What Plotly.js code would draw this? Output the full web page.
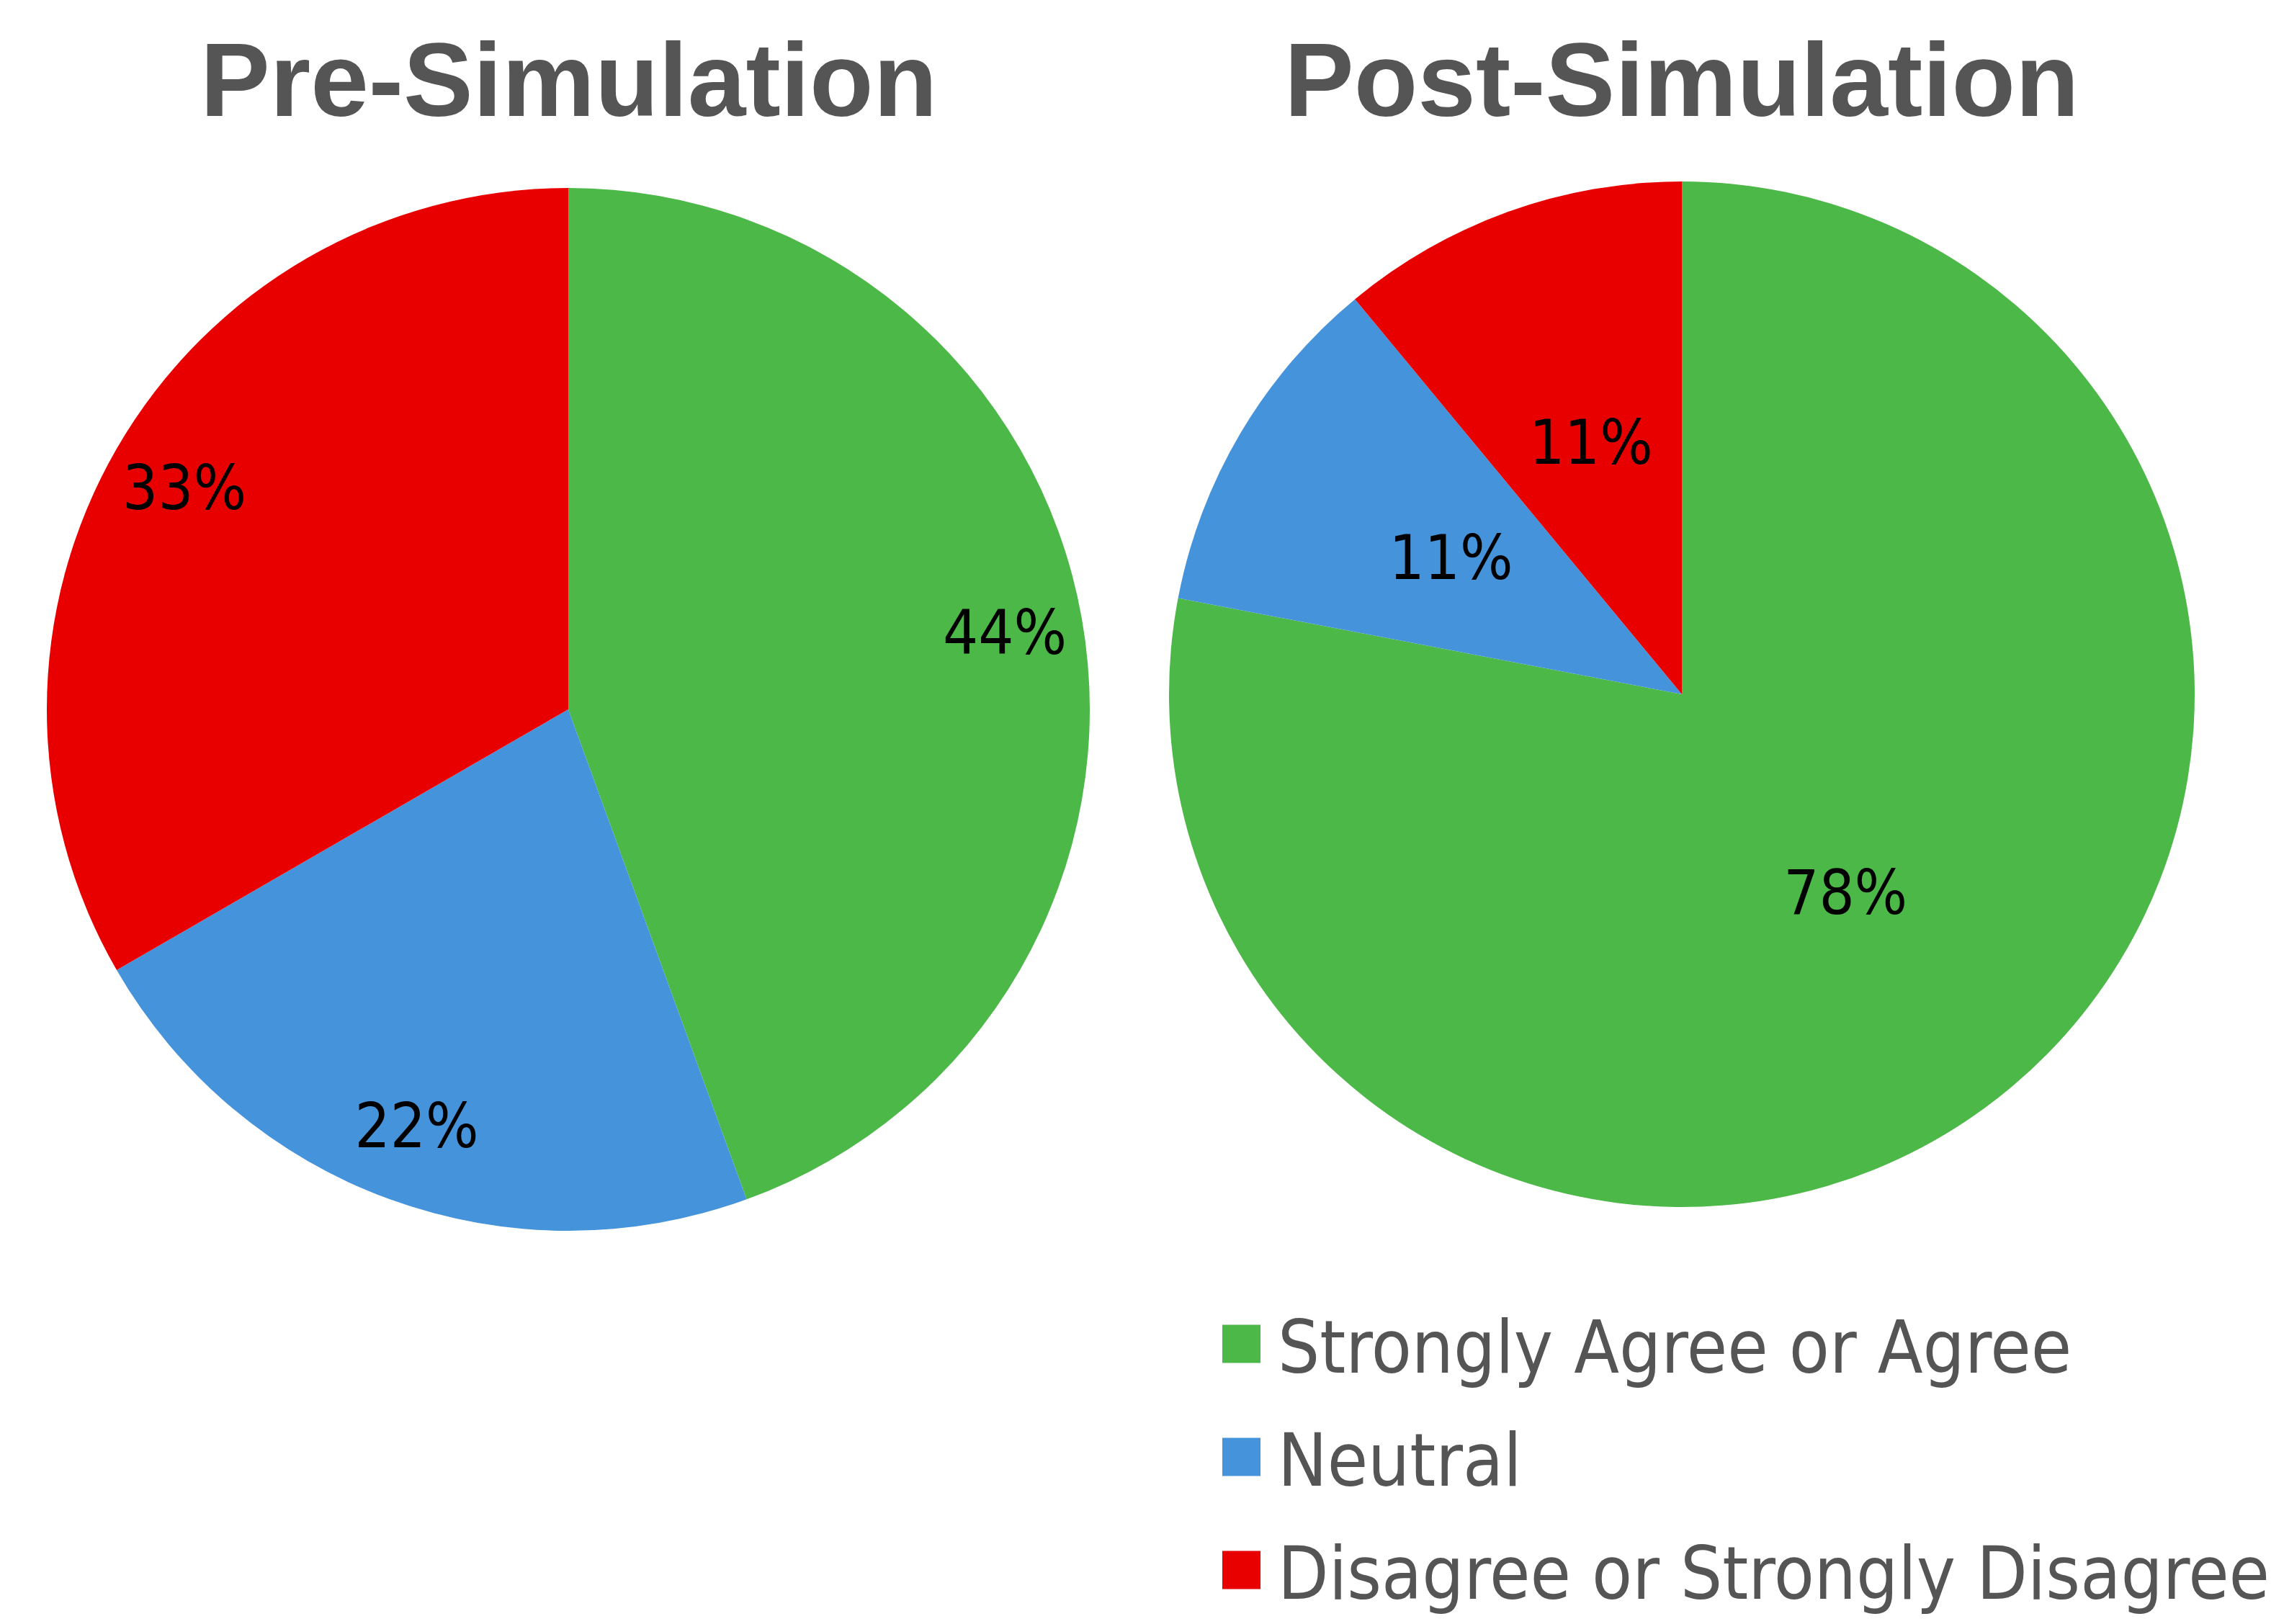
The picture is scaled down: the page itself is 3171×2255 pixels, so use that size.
<!DOCTYPE html>
<html>
<head>
<meta charset="utf-8">
<script src="https://cdn.plot.ly/plotly-3.0.1.min.js"></script>
<style>html,body{margin:0;padding:0;background:#fff;}#chart{width:3171px;height:2255px;}</style>
</head>
<body>
<div id="chart"></div>
<script>
// ---- data ----
var categories = ["Strongly Agree or Agree", "Neutral", "Disagree or Strongly Disagree"];
var preValues = [44, 22, 33];
var postValues = [78, 11, 11];
var chartTitles = ["Pre-Simulation", "Post-Simulation"];
var sliceColors = ["#4cb847", "#4593da", "#e80000"];

// ---- layout helpers ----
var W = 3171, H = 2255;
function dom(cx, cy, r) {
  return { x: [(cx - r) / W, (cx + r) / W], y: [1 - (cy + r) / H, 1 - (cy - r) / H] };
}
var pies = [
  { values: preValues, cx: 789, cy: 985, r: 724, textScale: 1.0, textHole: 0.70 },
  { values: postValues, cx: 2335, cy: 964, r: 712, textScale: 0.70, textHole: 0.43 }
];
var condensed = "DejaVu Sans Condensed, DejaVu Sans, sans-serif";
var labelFont = { family: condensed, size: 86, color: "#000", stretch: "condensed" };

var traces = [];
pies.forEach(function (p) {
  traces.push({
    type: "pie", labels: categories, values: p.values, sort: false, direction: "clockwise",
    rotation: 0, marker: { colors: sliceColors, line: { width: 0 } },
    textinfo: "none", hoverinfo: "skip", showlegend: false, domain: dom(p.cx, p.cy, p.r)
  });
  traces.push({
    type: "pie", labels: categories, values: p.values, sort: false, direction: "clockwise",
    rotation: 0, hole: p.textHole,
    marker: { colors: ["rgba(0,0,0,0)", "rgba(0,0,0,0)", "rgba(0,0,0,0)"], line: { width: 0 } },
    texttemplate: "%{percent:.0%}", textposition: "inside", insidetextorientation: "horizontal",
    insidetextfont: labelFont, textfont: labelFont, hoverinfo: "skip", showlegend: false,
    domain: dom(p.cx, p.cy, p.r * p.textScale)
  });
});

var annotations = [];
var shapes = [];
chartTitles.forEach(function (t, i) {
  annotations.push({
    xref: "paper", yref: "paper", x: pies[i].cx / W, y: 1 - 111 / H,
    xanchor: "center", yanchor: "middle", showarrow: false, text: t,
    font: { family: "Liberation Sans, Arial, sans-serif", size: 145, color: "#555555", weight: "bold" }
  });
});

// custom legend
var legX = 1697, legSq = 53, legY0 = 1866, legStep = 157;
categories.forEach(function (c, i) {
  var yc = legY0 + i * legStep;
  shapes.push({
    type: "rect", xref: "paper", yref: "paper",
    x0: legX / W, x1: (legX + legSq) / W, y0: 1 - (yc + legSq / 2) / H, y1: 1 - (yc - legSq / 2) / H,
    fillcolor: sliceColors[i], line: { width: 0 }
  });
  annotations.push({
    xref: "paper", yref: "paper", x: 1772 / W, y: 1 - (yc + 4) / H,
    xanchor: "left", yanchor: "middle", showarrow: false, text: c,
    font: { family: condensed, size: 102, color: "#555555", stretch: "condensed" }
  });
});

var layout = {
  width: W, height: H, margin: { l: 0, r: 0, t: 0, b: 0 },
  paper_bgcolor: "#ffffff", plot_bgcolor: "#ffffff",
  showlegend: false, annotations: annotations, shapes: shapes
};
Plotly.newPlot("chart", traces, layout, { staticPlot: true, displayModeBar: false });
</script>
</body>
</html>
